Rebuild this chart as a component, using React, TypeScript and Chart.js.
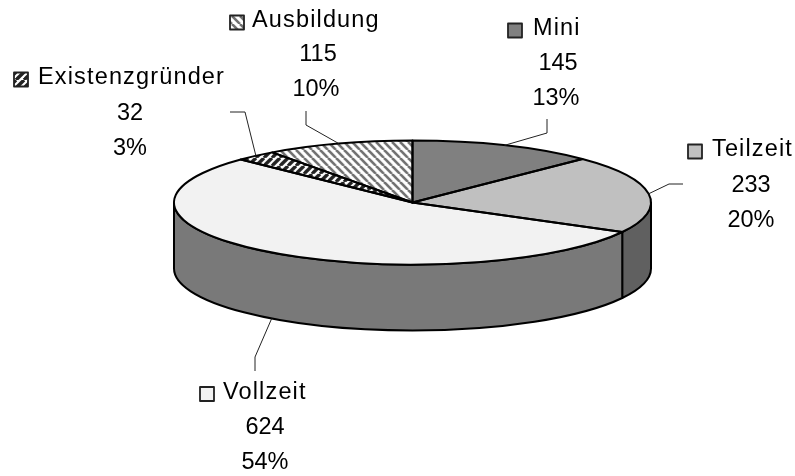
import React, { useEffect, useRef } from "react";
import { Chart, registerables } from "chart.js";

Chart.register(...registerables);

const categories = ["Mini", "Teilzeit", "Vollzeit", "Existenzgründer", "Ausbildung"];
const values = [145, 233, 624, 32, 115];
const percents = ["13%", "20%", "54%", "3%", "10%"];
const topColors = ["#808080", "#c0c0c0", "#f2f2f2", null, null];
const wallColors = ["#5c5c5c", "#606060", "#797979", "#555555", "#777777"];

const FONT = '23.5px "Liberation Sans", Arial, sans-serif';
const SQUASH = 62 / 238.5;
const RADIUS = 238.5;
const DEPTH = 66;

// legend key x, name x, value centre x, percent centre x, three line centres y, elbow, leader end
const labelLayout = [
  { key: 508, name: 533, val: 558, pct: 556, ys: [27.5, 62, 97], elbow: [547, 133], end: [547, 119] },
  { key: 688, name: 712, val: 751, pct: 751, ys: [148.5, 184.5, 219.5], elbow: [669, 184], end: [683, 184] },
  { key: 200, name: 223, val: 265, pct: 265, ys: [391, 426, 461], elbow: [255, 357], end: [255, 371] },
  { key: 14, name: 38, val: 130, pct: 130, ys: [76.5, 112.5, 147], elbow: [245, 112], end: [230, 112] },
  { key: 230, name: 252, val: 318, pct: 316, ys: [19.5, 53.5, 88], elbow: [306, 125], end: [306, 111] },
];

function hatch(size: number, fg: string, bg: string, width: number, dir: 1 | -1) {
  const c = document.createElement("canvas");
  c.width = c.height = size;
  const g = c.getContext("2d")!;
  g.fillStyle = bg;
  g.fillRect(0, 0, size, size);
  g.strokeStyle = fg;
  g.lineWidth = width;
  for (let i = -1; i <= 1; i++) {
    g.beginPath();
    if (dir === 1) {
      g.moveTo(i * size, 0);
      g.lineTo((i + 1) * size, size);
    } else {
      g.moveTo((i + 1) * size, 0);
      g.lineTo(i * size, size);
    }
    g.stroke();
  }
  return g.createPattern(c, "repeat")!;
}

const darkHatch = () => hatch(8, "#222", "#fff", 3.4, -1);
const lightHatch = () => hatch(8, "#707070", "#fff", 2.6, 1);

const pie3d = {
  id: "pie3d",
  beforeDatasetsDraw(chart: any) {
    const ctx = chart.ctx;
    const arcs = chart.getDatasetMeta(0).data;
    const { x: cx, y: cy } = arcs[0];
    ctx.lineWidth = 2;
    ctx.strokeStyle = "#000";
    ctx.lineJoin = "round";
    const rx = arcs[0].outerRadius;
    const ry = rx * SQUASH;
    arcs.forEach((a: any, i: number) => {
      const s = Math.max(a.startAngle, 0);
      const e = Math.min(a.endAngle, Math.PI);
      if (e <= s) return;
      ctx.beginPath();
      ctx.ellipse(cx, cy, rx, ry, 0, s, e);
      ctx.ellipse(cx, cy + DEPTH, rx, ry, 0, e, s, true);
      ctx.closePath();
      ctx.fillStyle = wallColors[i];
      ctx.fill();
      ctx.stroke();
    });
    ctx.save();
    ctx.translate(cx, cy);
    ctx.scale(1, SQUASH);
    ctx.translate(-cx, -cy);
  },
  afterDatasetsDraw(chart: any) {
    const ctx = chart.ctx;
    ctx.restore();
    const arcs = chart.getDatasetMeta(0).data;
    const { x: cx, y: cy } = arcs[0];
    const rx = arcs[0].outerRadius;
    const ry = rx * SQUASH;
    ctx.save();
    ctx.lineWidth = 2;
    ctx.strokeStyle = "#000";
    ctx.lineJoin = "round";
    arcs.forEach((a: any) => {
      ctx.beginPath();
      ctx.moveTo(cx, cy);
      ctx.ellipse(cx, cy, rx, ry, 0, a.startAngle, a.endAngle);
      ctx.closePath();
      ctx.stroke();
    });
    ctx.lineWidth = 1;
    ctx.strokeStyle = "#222";
    arcs.forEach((a: any, i: number) => {
      const mid = (a.startAngle + a.endAngle) / 2;
      const px = cx + rx * Math.cos(mid);
      const wrapped = Math.sin(mid) > 0 && Math.abs(Math.cos(mid)) < 0.9;
      const py = cy + ry * Math.sin(mid) + (wrapped ? DEPTH : 0);
      const l = labelLayout[i];
      ctx.beginPath();
      ctx.moveTo(px, py);
      ctx.lineTo(l.elbow[0], l.elbow[1]);
      ctx.lineTo(l.end[0], l.end[1]);
      ctx.stroke();
    });
    ctx.font = FONT;
    ctx.textBaseline = "middle";
    const keyFills = chart.data.datasets[0].backgroundColor;
    const textDrop = 1.5;
    labelLayout.forEach((l, i) => {
      ctx.textAlign = "left";
      (ctx as any).letterSpacing = "1.15px";
      ctx.fillStyle = "#000";
      ctx.fillText(categories[i], l.name, l.ys[0] + textDrop);
      (ctx as any).letterSpacing = "0px";
      ctx.textAlign = "center";
      ctx.fillText(String(values[i]), l.val, l.ys[1] + textDrop);
      ctx.fillText(percents[i], l.pct, l.ys[2] + textDrop);
      ctx.fillStyle = keyFills[i];
      ctx.lineWidth = 1.8;
      ctx.fillRect(l.key, l.ys[0] - 4, 14, 14);
      ctx.strokeRect(l.key, l.ys[0] - 4, 14, 14);
      ctx.lineWidth = 1;
    });
    ctx.restore();
  },
};

export default function App() {
  const ref = useRef<HTMLCanvasElement>(null);
  useEffect(() => {
    const unsquash = (p: CanvasPattern) => {
      p.setTransform(new DOMMatrix().scale(1, 1 / SQUASH));
      return p;
    };
    const keyHatches = [darkHatch(), lightHatch()];
    const fills = topColors.map((c, i) => c ?? keyHatches[i - 3]);
    const sliceFills = topColors.map((c, i) => c ?? unsquash(i === 3 ? darkHatch() : lightHatch()));
    const chart = new Chart(ref.current!, {
      type: "pie",
      data: {
        labels: categories,
        datasets: [
          {
            data: values,
            backgroundColor: fills as any,
            borderWidth: 0,
            radius: RADIUS,
            clip: false,
            hoverOffset: 0,
          } as any,
        ],
      },
      options: {
        responsive: false,
        animation: false,
        layout: { padding: { left: 30, bottom: 71 } },
        events: [],
        plugins: { legend: { display: false }, tooltip: { enabled: false }, title: { display: false } },
      },
      plugins: [
        {
          id: "swapFills",
          beforeDatasetDraw(c: any) {
            c.getDatasetMeta(0).data.forEach((a: any, i: number) => {
              a.options.backgroundColor = sliceFills[i];
            });
          },
        },
        pie3d as any,
      ],
    });
    return () => chart.destroy();
  }, []);
  return (
    <div style={{ position: "fixed", left: 0, top: 0, width: 795, height: 476, background: "#fff" }}>
      <canvas ref={ref} width={795} height={476} style={{ display: "block" }} />
    </div>
  );
}
